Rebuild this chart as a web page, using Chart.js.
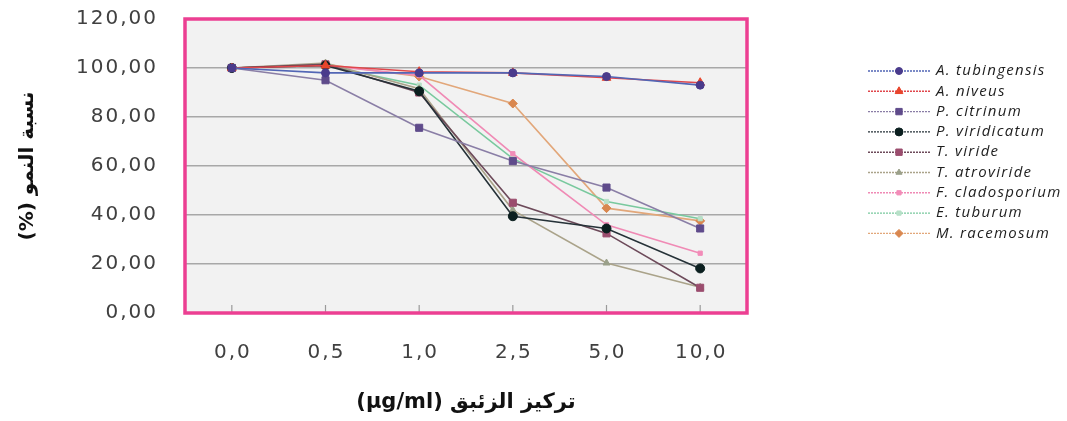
<!DOCTYPE html>
<html>
<head>
<meta charset="utf-8">
<script src="https://cdn.jsdelivr.net/npm/chart.js@4/dist/chart.umd.min.js"></script>
<style>
  html, body { margin: 0; padding: 0; background: #ffffff; }
  #wrap { width: 1067px; height: 421px; position: relative; }
</style>
</head>
<body>
<div id="wrap"><canvas id="c" width="1067" height="421"></canvas></div>
<script>
// ---- data ----
const categories = ['0,0', '0,5', '1,0', '2,5', '5,0', '10,0'];
const seriesNames = ['A. tubingensis', 'A. niveus', 'P. citrinum', 'P. viridicatum', 'T. viride',
                     'T. atroviride', 'F. cladosporium', 'E. tuburum', 'M. racemosum'];
const tubingensis   = [100, 98.0, 98.0, 98.0, 96.5, 93.0];
const niveus        = [100, 101.0, 98.5, 98.0, 96.0, 94.0];
const citrinum      = [100, 95.0, 75.6, 62.0, 51.2, 34.5];
const viridicatum   = [100, 101.0, 90.5, 39.5, 34.5, 18.2];
const viride        = [100, 101.5, 90.0, 45.0, 32.5, 10.3];
const atroviride    = [100, 102.0, 91.5, 42.0, 20.4, 10.5];
const cladosporium  = [100, 101.0, 97.0, 65.0, 36.0, 24.4];
const tuburum       = [100, 101.0, 93.0, 63.0, 45.5, 38.5];
const racemosum     = [100, 101.5, 96.5, 85.5, 42.8, 37.6];
const yTicks = [0, 20, 40, 60, 80, 100, 120];
const yTitle = '(%) نسبة النمو';
const xTitle = '(µg/ml) تركيز الزئبق';

const styles = [
  {line: '#5266b5', fill: '#4a3b8c', shape: 'circle',   r: 4},
  {line: '#e0474c', fill: '#e8452c', shape: 'triangle', r: 5},
  {line: '#8a7ea6', fill: '#5f4b8b', shape: 'rect',     r: 5},
  {line: '#263238', fill: '#0b1f1f', shape: 'circle',   r: 4.5},
  {line: '#6d4a5a', fill: '#9b4d6e', shape: 'rect',     r: 5},
  {line: '#aaa38a', fill: '#9aa08a', shape: 'triangle', r: 4},
  {line: '#f08ab5', fill: '#f28cb8', shape: 'rect',     r: 3},
  {line: '#79c99e', fill: '#b8e0c8', shape: 'rect',     r: 3},
  {line: '#e2a77a', fill: '#d9874f', shape: 'rectRot',  r: 4.5}
];
const seriesValues = [tubingensis, niveus, citrinum, viridicatum, viride, atroviride, cladosporium, tuburum, racemosum];

const datasets = seriesValues.map((vals, i) => ({
  label: seriesNames[i],
  data: vals,
  borderColor: styles[i].line,
  backgroundColor: styles[i].fill,
  pointBackgroundColor: styles[i].fill,
  pointBorderColor: styles[i].fill,
  pointStyle: styles[i].shape,
  pointRadius: styles[i].r,
  pointBorderWidth: 1,
  borderWidth: 1.6,
  tension: 0,
  fill: false
}));

const origDrawTitle = Chart.Scale.prototype.drawTitle;
Chart.Scale.prototype.drawTitle = function () {
  const c = this.ctx; const prev = c.letterSpacing;
  c.letterSpacing = '0px';
  origDrawTitle.apply(this, arguments);
  c.letterSpacing = prev;
};

function drawMarker(ctx, shape, r, x, y, color) {
  if (Chart.helpers && Chart.helpers.drawPoint) {
    ctx.fillStyle = color; ctx.strokeStyle = color; ctx.lineWidth = 1;
    Chart.helpers.drawPoint(ctx, {pointStyle: shape, radius: r, borderWidth: 1, rotation: 0}, x, y);
    return;
  }
  ctx.fillStyle = color;
  ctx.beginPath(); ctx.arc(x, y, r, 0, Math.PI * 2); ctx.fill();
}

const framePlugin = {
  id: 'frame',
  beforeDraw(chart) {
    const {ctx, chartArea: a} = chart;
    ctx.save();
    ctx.fillStyle = '#f2f2f2';
    ctx.fillRect(a.left, a.top, a.right - a.left, a.bottom - a.top);
    ctx.restore();
    ctx.letterSpacing = '2px';
  },
  beforeDatasetsDraw(chart) {
    const {ctx, chartArea: a} = chart;
    ctx.letterSpacing = '0px';
    const xs = chart.scales.x;
    ctx.save();
    ctx.strokeStyle = '#9a9a9a';
    ctx.lineWidth = 1.2;
    for (let i = 0; i < categories.length; i++) {
      const px = xs.getPixelForTick(i);
      ctx.beginPath(); ctx.moveTo(px, a.bottom); ctx.lineTo(px, a.bottom - 8); ctx.stroke();
    }
    ctx.restore();
  },
  afterDraw(chart) {
    const {ctx, chartArea: a} = chart;
    ctx.save();
    ctx.letterSpacing = '0px';
    ctx.strokeStyle = '#ec3f92';
    ctx.lineWidth = 3.5;
    ctx.strokeRect(a.left, a.top, a.right - a.left, a.bottom - a.top);
    ctx.restore();

    // category labels, placed at the x scale's tick pixels
    const xs = chart.scales.x;
    ctx.save();
    ctx.font = '20px "DejaVu Sans"';
    ctx.letterSpacing = '2px';
    ctx.fillStyle = '#404040';
    ctx.textAlign = 'center';
    ctx.textBaseline = 'middle';
    for (let i = 0; i < categories.length; i++) {
      ctx.fillText(categories[i], xs.getPixelForTick(i) + 1, a.bottom + 40);
    }
    ctx.restore();

    // legend
    ctx.save();
    const x0 = 868, x1 = 930, xm = 899, tx = 936;
    let y = 71;
    ctx.font = 'italic 15px "Open Sans", "Liberation Sans", sans-serif';
    ctx.letterSpacing = '1.3px';
    ctx.textBaseline = 'middle';
    ctx.textAlign = 'left';
    chart.data.datasets.forEach((ds, i) => {
      ctx.strokeStyle = ds.borderColor;
      ctx.lineWidth = 1.4;
      ctx.setLineDash([2, 1]);
      ctx.beginPath(); ctx.moveTo(x0, y); ctx.lineTo(x1, y); ctx.stroke();
      ctx.setLineDash([]);
      drawMarker(ctx, ds.pointStyle, Math.max(3, ds.pointRadius - 0.5), xm, y, ds.pointBackgroundColor);
      ctx.fillStyle = '#1e1e1e';
      ctx.fillText(ds.label, tx, y);
      y += 20.3;
    });
    ctx.restore();
  }
};

new Chart(document.getElementById('c'), {
  type: 'line',
  data: { labels: categories, datasets: datasets },
  plugins: [framePlugin],
  options: {
    responsive: false,
    animation: false,
    devicePixelRatio: 1,
    layout: { padding: { top: 19, right: 320, bottom: 0, left: 0 } },
    plugins: { legend: { display: false }, tooltip: { enabled: false }, title: { display: false } },
    scales: {
      x: {
        type: 'category',
        offset: true,
        grid: { display: false, drawTicks: false },
        border: { display: false },
        ticks: { display: false },
        title: {
          display: true,
          text: xTitle,
          color: '#111111',
          font: { family: 'DejaVu Sans', size: 21, weight: 'bold' },
          padding: { top: 0, bottom: 6 }
        },
        afterFit(scale) { scale.height = 108; }
      },
      y: {
        min: 0, max: 120,
        afterBuildTicks(scale) { scale.ticks = yTicks.map(v => ({ value: v })); },
        grid: { color: '#a8a8a8', lineWidth: 1.6, drawTicks: false },
        border: { display: false },
        ticks: {
          padding: 27,
          color: '#404040',
          font: { family: 'DejaVu Sans', size: 20 },
          callback: v => v.toFixed(2).replace('.', ',')
        },
        title: {
          display: true,
          text: yTitle,
          color: '#111111',
          font: { family: 'DejaVu Sans', size: 20, weight: 'bold' },
          padding: { top: 16, bottom: 0 }
        },
        afterFit(scale) { scale.width = 185; scale.paddingTop = 0; scale.paddingBottom = 0; }
      }
    }
  }
});
</script>
</body>
</html>
